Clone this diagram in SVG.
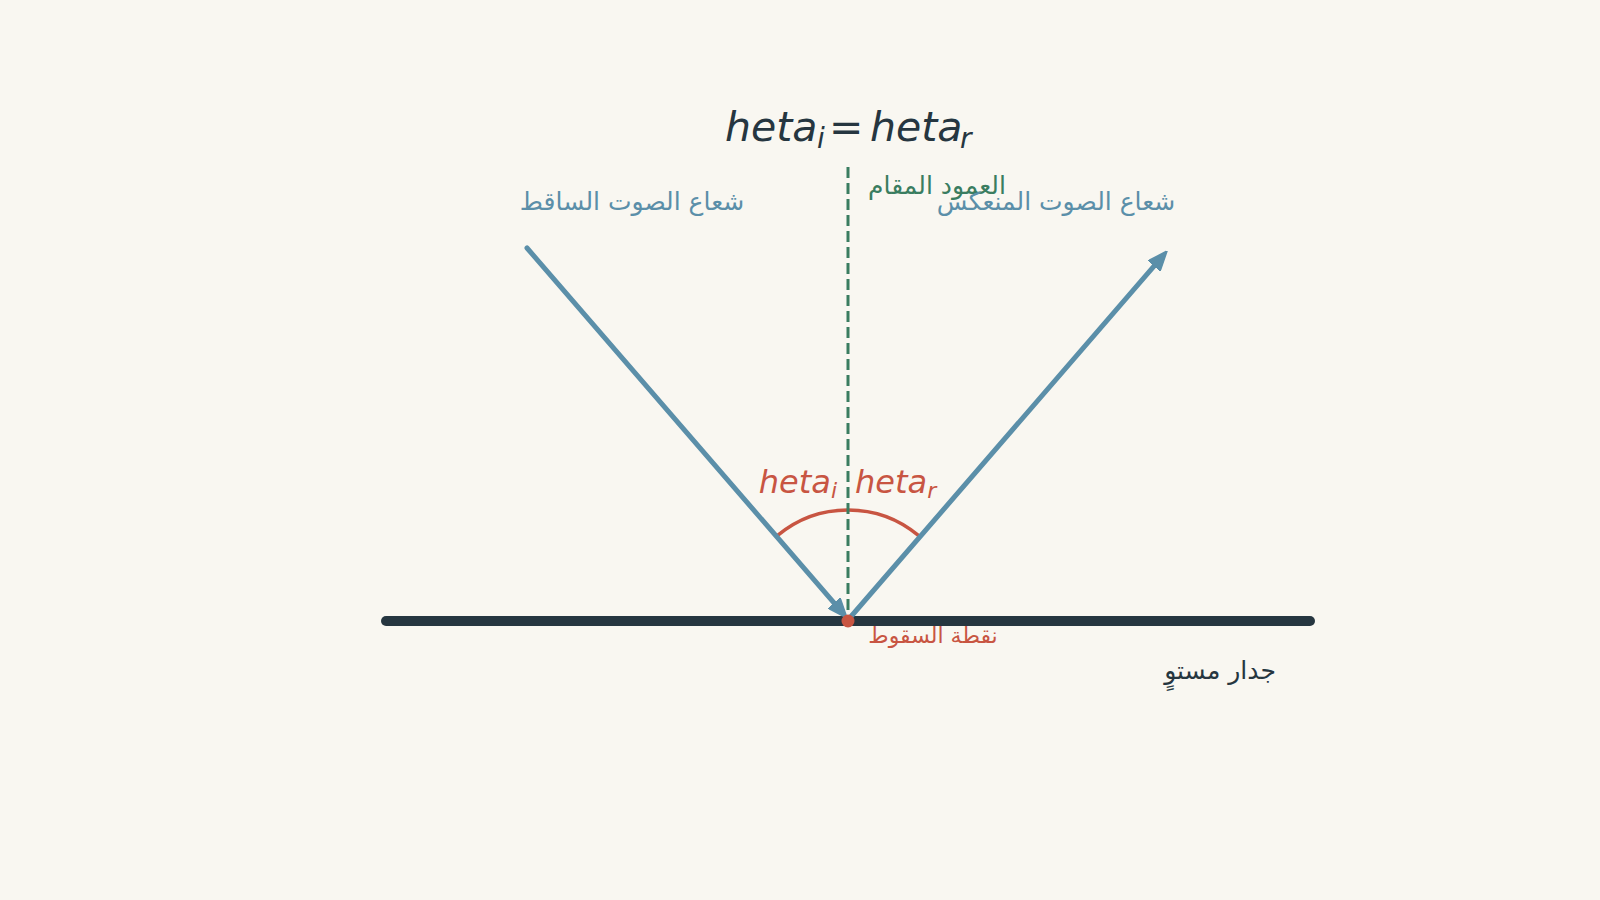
<svg xmlns="http://www.w3.org/2000/svg" width="1600" height="900" viewBox="0 0 1600 900">
  <style>
    .math { font-family: "DejaVu Sans", sans-serif; font-style: italic; }
    .ar { font-family: "DejaVu Sans", "Noto Sans", sans-serif; text-anchor: middle; }
    .ray { fill: none; stroke: #5b8fa9; stroke-width: 5; stroke-linecap: round; }
  </style>
  <defs>
    <marker id="arrow" viewBox="0 0 20 16" refX="10" refY="8" markerWidth="20" markerHeight="16" markerUnits="userSpaceOnUse" orient="auto">
      <path d="M0,0 L20,8 L0,16 Z" fill="#5b8fa9" stroke="#5b8fa9" stroke-width="1.5" stroke-linejoin="round"/>
    </marker>
  </defs>
  <rect width="1600" height="900" fill="#f9f7f1"/>

  <g id="title">
    <text class="math" y="141" font-size="41" fill="#263640"><tspan x="725">heta</tspan><tspan x="817" font-size="28" dy="7">i</tspan><tspan x="829" dy="-7" font-style="normal">=</tspan><tspan x="870">heta</tspan><tspan x="960" font-size="28" dy="7">r</tspan></text>
  </g>

  <g id="wall">
    <line x1="386" y1="621" x2="1310" y2="621" stroke="#263640" stroke-width="10" stroke-linecap="round"/>
    <text class="ar" x="1220" y="679" font-size="25" fill="#263640">جدار مستوٍ</text>
  </g>

  <g id="angle">
    <path d="M777.3,535.7 A110,110 0 0 1 918.7,535.7" fill="none" stroke="#c85542" stroke-width="3.5"/>
    <text class="math" x="837" y="493" text-anchor="end" font-size="32" fill="#c85542"><tspan>heta</tspan><tspan font-size="22" dy="5">i</tspan></text>
    <text class="math" x="855" y="493" text-anchor="start" font-size="32" fill="#c85542"><tspan>heta</tspan><tspan font-size="22" dy="5">r</tspan></text>
  </g>

  <g id="connectors">
    <line id="normal" x1="848" y1="167" x2="848" y2="615" stroke="#3a7d60" stroke-width="3" stroke-dasharray="11 5"/>
    <path id="incident" class="ray" d="M527,248 L840.5,610.4" marker-end="url(#arrow)"/>
    <path id="reflected" class="ray" d="M848,620 L1160.5,258.6" marker-end="url(#arrow)"/>
  </g>

  <g id="normal-label">
    <text class="ar" x="937" y="194" font-size="25" fill="#3a7d60">العمود المقام</text>
  </g>
  <g id="incident-label">
    <text class="ar" x="632" y="210" font-size="25" fill="#5b8fa9">شعاع الصوت الساقط</text>
  </g>
  <g id="reflected-label">
    <text class="ar" x="1056" y="210" font-size="25" fill="#5b8fa9">شعاع الصوت المنعكس</text>
  </g>

  <g id="point">
    <circle cx="848" cy="621" r="6.5" fill="#c85542"/>
    <text class="ar" x="933" y="643" font-size="22" fill="#c85542">نقطة السقوط</text>
  </g>
</svg>
